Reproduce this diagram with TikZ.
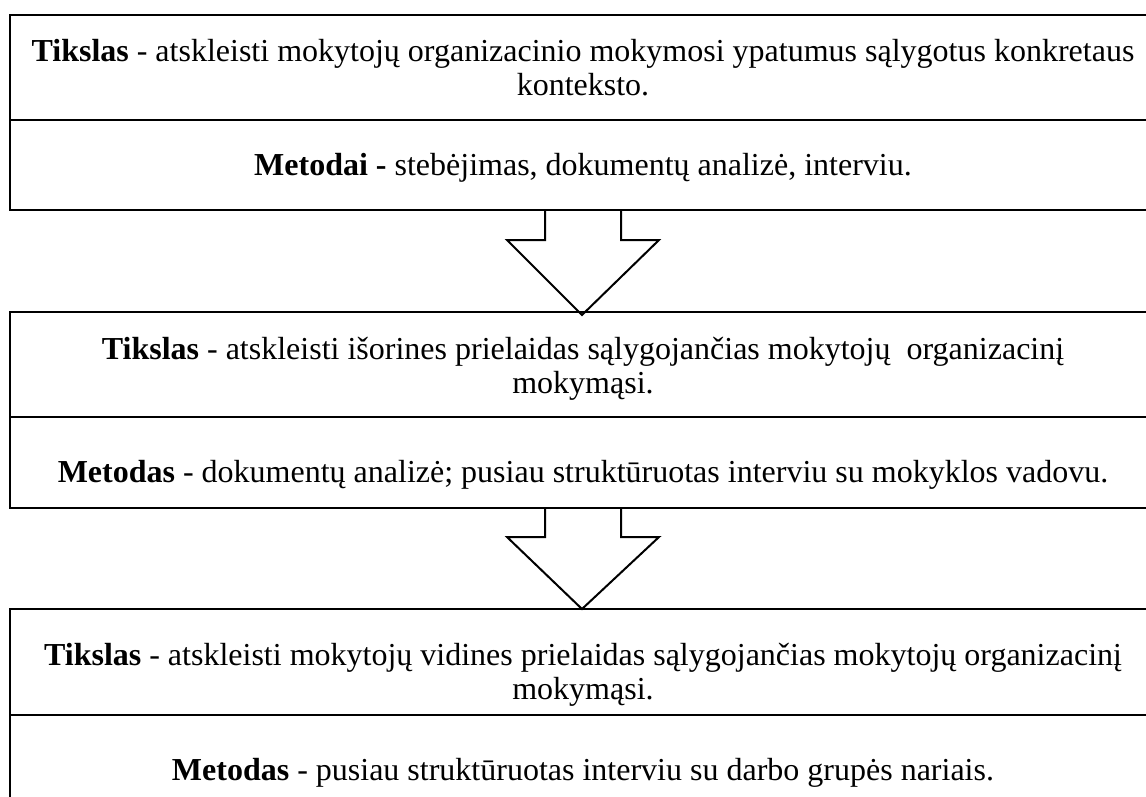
\documentclass[tikz,border=0pt]{standalone}
\usepackage{fontspec}
\setmainfont{Liberation Serif}
\usetikzlibrary{calc}
\newcommand{\boxfont}{\fontsize{32}{34}\selectfont}
\tikzset{
  cell/.style={draw, line width=2pt, minimum width=1146pt, inner sep=0pt, outer sep=0pt},
  line/.style={font=\boxfont, anchor=base, inner sep=0pt},
  blockarrow/.style={draw, line width=2pt, line join=miter},
}
\begin{document}
\begin{tikzpicture}[x=1pt,y=-1pt]
\useasboundingbox (0,0) rectangle (1146,796);
\clip (0,0) rectangle (1146,796);

% stage 1
\node[cell, minimum height=105pt] (goal1) at (583,67.5) {};
\node[cell, minimum height=90pt]  (meth1) at (583,165) {};
\node[line] (goal1a) at (583,61) {\textbf{Tikslas} - atskleisti mokytojų organizacinio mokymosi ypatumus sąlygotus konkretaus};
\node[line] (goal1b) at (583,95) {konteksto.};
\node[line] (meth1a) at (583,175) {\textbf{Metodai -} stebėjimas, dokumentų analizė, interviu.};

% stage 2
\node[cell, minimum height=105pt] (goal2) at (583,364.5) {};
\node[cell, minimum height=91pt]  (meth2) at (583,462.5) {};
\node[line] (goal2a) at (583,359) {\textbf{Tikslas} - atskleisti išorines prielaidas sąlygojančias mokytojų\ \ organizacinį};
\node[line] (goal2b) at (583,393) {mokymąsi.};
\node[line] (meth2a) at (583,482) {\textbf{Metodas} - dokumentų analizė; pusiau struktūruotas interviu su mokyklos vadovu.};

% stage 3
\node[cell, minimum height=106pt] (goal3) at (583,662) {};
\node[cell, minimum height=100pt] (meth3) at (583,765) {};
\node[line] (goal3a) at (583,665) {\textbf{Tikslas} - atskleisti mokytojų vidines prielaidas sąlygojančias mokytojų organizacinį};
\node[line] (goal3b) at (583,699) {mokymąsi.};
\node[line] (meth3a) at (583,780) {\textbf{Metodas} - pusiau struktūruotas interviu su darbo grupės nariais.};

% hollow block arrows between the stages
\draw[blockarrow] ($(meth1.south)+(-38,0)$) -- ++(0,30) -- ++(-38,0)
  -- ($(goal2.north)+(-1,3)$) -- ($(meth1.south)+(76,30)$) -- ++(-38,0) -- ++(0,-30);
\draw[blockarrow] ($(meth2.south)+(-38,0)$) -- ++(0,29) -- ++(-38,0)
  -- ($(goal3.north)+(-1,0)$) -- ($(meth2.south)+(76,29)$) -- ++(-38,0) -- ++(0,-29);
\end{tikzpicture}
\end{document}
